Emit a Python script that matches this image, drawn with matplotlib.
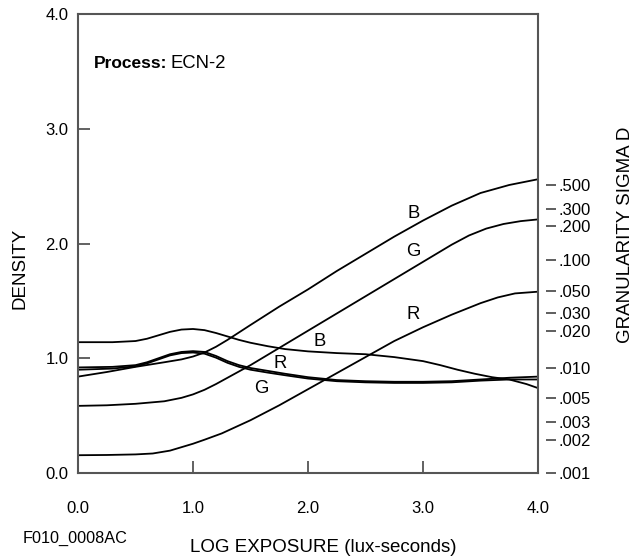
import matplotlib
matplotlib.use("Agg")
import matplotlib.pyplot as plt

plt.rcParams['font.family'] = ['Liberation Sans', 'DejaVu Sans']

# ---- data ----
# characteristic curves (density vs log exposure)
x_dB = [0, 0.25, 0.5, 0.75, 0.9, 1.0, 1.1, 1.2, 1.3, 1.5, 1.75, 2.0, 2.25, 2.5, 2.75, 3.0, 3.25, 3.5, 3.75, 4.0]
dens_B = [0.84, 0.88, 0.925, 0.965, 0.99, 1.015, 1.05, 1.10, 1.16, 1.29, 1.45, 1.60, 1.76, 1.91, 2.06, 2.20, 2.33, 2.44, 2.51, 2.56]

x_dG = [0, 0.25, 0.5, 0.75, 0.9, 1.0, 1.1, 1.2, 1.3, 1.5, 1.75, 2.0, 2.25, 2.5, 2.75, 3.0, 3.25, 3.4, 3.55, 3.7, 3.85, 4.0]
dens_G = [0.585, 0.59, 0.603, 0.625, 0.655, 0.685, 0.725, 0.775, 0.83, 0.94, 1.09, 1.24, 1.39, 1.54, 1.69, 1.84, 1.99, 2.07, 2.13, 2.17, 2.195, 2.21]

x_dR = [0, 0.25, 0.5, 0.65, 0.8, 0.9, 1.0, 1.1, 1.25, 1.5, 1.75, 2.0, 2.25, 2.5, 2.75, 3.0, 3.25, 3.5, 3.65, 3.8, 4.0]
dens_R = [0.155, 0.157, 0.162, 0.17, 0.195, 0.225, 0.255, 0.29, 0.345, 0.46, 0.59, 0.73, 0.87, 1.01, 1.15, 1.27, 1.38, 1.48, 1.53, 1.565, 1.58]

# granularity curves (plotted on density scale)
x_gB = [0, 0.3, 0.5, 0.6, 0.7, 0.8, 0.9, 1.0, 1.1, 1.2, 1.3, 1.4, 1.5, 1.65, 1.8, 2.0, 2.25, 2.5, 2.75, 3.0, 3.15, 3.3, 3.45, 3.6, 3.75, 3.9, 4.0]
gran_B = [1.14, 1.14, 1.15, 1.17, 1.20, 1.23, 1.25, 1.255, 1.245, 1.22, 1.19, 1.16, 1.135, 1.105, 1.08, 1.06, 1.045, 1.035, 1.01, 0.975, 0.94, 0.90, 0.865, 0.835, 0.815, 0.775, 0.74]

x_gRG = [0, 0.3, 0.5, 0.6, 0.7, 0.8, 0.9, 1.0, 1.1, 1.2, 1.3, 1.4, 1.5, 1.65, 1.8, 2.0, 2.25, 2.5, 2.75, 3.0, 3.25, 3.5, 3.75, 4.0]
gran_R = [0.92, 0.925, 0.94, 0.965, 1.0, 1.035, 1.055, 1.062, 1.055, 1.02, 0.975, 0.94, 0.915, 0.89, 0.865, 0.835, 0.81, 0.80, 0.795, 0.795, 0.80, 0.815, 0.83, 0.84]
gran_G = [0.90, 0.91, 0.93, 0.955, 0.99, 1.025, 1.045, 1.05, 1.04, 1.005, 0.96, 0.925, 0.90, 0.875, 0.852, 0.823, 0.80, 0.79, 0.785, 0.785, 0.79, 0.805, 0.815, 0.815]

char_labels = ['B', 'G', 'R']
char_label_pos = [(2.916, 2.263), (2.916, 1.929), (2.916, 1.377)]
gran_labels = ['B', 'R', 'G']
gran_label_pos = [(2.104, 1.144), (1.757, 0.956), (1.597, 0.738)]

x_ticks = [0.0, 1.0, 2.0, 3.0, 4.0]
x_ticklabels = ['0.0', '1.0', '2.0', '3.0', '4.0']
y_ticks = [0.0, 1.0, 2.0, 3.0, 4.0]
y_ticklabels = ['0.0', '1.0', '2.0', '3.0', '4.0']

sigma_pos = [0.0, 0.288, 0.447, 0.656, 0.912, 1.240, 1.392, 1.589, 1.856, 2.15, 2.30, 2.51]
sigma_labels = ['.001', '.002', '.003', '.005', '.010', '.020', '.030', '.050', '.100', '.200', '.300', '.500']

# ---- figure ----
fig = plt.figure(figsize=(6.4, 5.59), dpi=100)
L, R, B, T = 78/640, 538/640, (559-473)/559, (559-14)/559
ax = fig.add_axes([L, B, R-L, T-B])
ax.set_xlim(0, 4)
ax.set_ylim(0, 4)

spine_col = '#555555'
for s in ax.spines.values():
    s.set_color(spine_col)
    s.set_linewidth(1.5)

lw = 1.3
for xs, ys in [(x_dB, dens_B), (x_dG, dens_G), (x_dR, dens_R),
               (x_gB, gran_B), (x_gRG, gran_R), (x_gRG, gran_G)]:
    ax.plot(xs, ys, color='black', lw=lw, solid_joinstyle='round')

fs = 12
lab_fs = 13.3
for t, (x, y) in zip(char_labels, char_label_pos):
    ax.text(x, y, t, fontsize=lab_fs, ha='center', va='center')
for t, (x, y) in zip(gran_labels, gran_label_pos):
    ax.text(x, y, t, fontsize=lab_fs, ha='center', va='center')

ax.set_xticks(x_ticks)
ax.set_xticklabels(x_ticklabels)
ax.set_yticks(y_ticks)
ax.set_yticklabels(y_ticklabels)
ax.tick_params(axis='x', direction='in', length=8.5, width=1.3, color=spine_col,
               pad=20, labelsize=fs, top=False)
ax.tick_params(axis='y', direction='in', length=8.5, width=1.3, color=spine_col,
               pad=7, labelsize=fs, right=False)

# right granularity axis
ax2 = ax.twinx()
ax2.set_ylim(0, 4)
ax2.spines['right'].set_position(('outward', 6))
for s in ax2.spines.values():
    s.set_visible(False)
ax2.set_yticks(sigma_pos)
ax2.set_yticklabels(sigma_labels)
ax2.tick_params(axis='y', direction='out', length=7.5, width=1.1, color='#333333',
                pad=1.5, labelsize=fs)

ax.text(0.139, 3.57, 'Process:', fontsize=12.5, fontweight='bold', ha='left', va='center')
ax.text(0.80, 3.57, 'ECN-2', fontsize=13.3, ha='left', va='center')

title_fs = 13.5
fig.text(20/640, 1 - 268/559, 'DENSITY', rotation=90, fontsize=title_fs, ha='center', va='center')
fig.text(626/640, 1 - 343/559, 'GRANULARITY SIGMA D', rotation=90, fontsize=title_fs,
         ha='center', va='bottom')
fig.text(323.5/640, 1 - 547/559, 'LOG EXPOSURE (lux-seconds)', fontsize=title_fs,
         ha='center', va='center')
fig.text(23/640, 1 - 538/559, 'F010_0008AC', fontsize=11.7, ha='left', va='center')

fig.savefig('out.png', dpi=100)
